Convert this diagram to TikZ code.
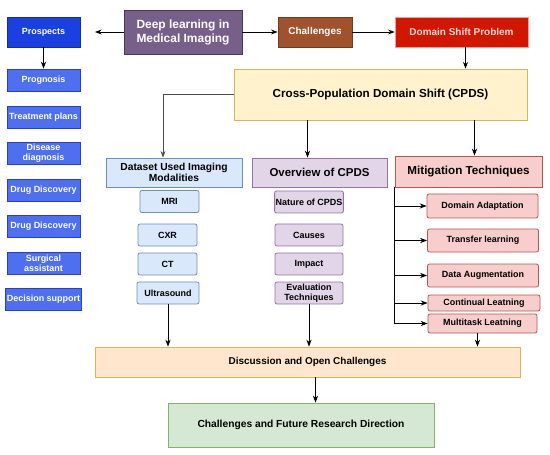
\documentclass[tikz,border=0pt]{standalone}
\usepackage{fontspec}
\setmainfont{Liberation Sans}
\usetikzlibrary{arrows.meta}
\usetikzlibrary{calc}

\begin{document}
\begin{tikzpicture}[x=1bp, y=-1bp, >=Stealth,
    box/.style={draw, line width=0.8pt, align=center, inner sep=1pt,
        font=\bfseries\fontsize{9}{10}\selectfont},
    prosBox/.style={box, fill=prosBlue, draw=prosLine, text=white,
        minimum width=73bp, minimum height=22bp},
    modBox/.style={box, rounded corners=2pt, fill=modFill, draw=modLine,
        minimum height=22bp},
    ovBox/.style={box, rounded corners=2pt, fill=ovFill, draw=ovLine,
        minimum width=68bp, minimum height=22bp},
    mitBox/.style={box, rounded corners=2pt, fill=mitFill, draw=mitLine},
    link/.style={->, line width=0.9pt}]

% ---------------------------------------------------------------------------
% Color aliases
% ---------------------------------------------------------------------------
\definecolor{dlFill}{HTML}{76608A}
\definecolor{prosTop}{HTML}{1A40E0}
\definecolor{prosBlue}{HTML}{4D6FF0}
\definecolor{prosLine}{HTML}{2A3FC8}
\definecolor{chalFill}{HTML}{A0522D}
\definecolor{dspFill}{HTML}{D01800}
\definecolor{cpdsFill}{HTML}{FFF2CC}
\definecolor{cpdsLine}{HTML}{D6B656}
\definecolor{modFill}{HTML}{DAE8FC}
\definecolor{modLine}{HTML}{6C8EBF}
\definecolor{ovFill}{HTML}{E1D5E7}
\definecolor{ovLine}{HTML}{9673A6}
\definecolor{mitFill}{HTML}{F8CECC}
\definecolor{mitLine}{HTML}{B85450}
\definecolor{discFill}{HTML}{FFE6CC}
\definecolor{futFill}{HTML}{D5E8D4}
\definecolor{futLine}{HTML}{82B366}

\useasboundingbox (0,0) rectangle (550,455);

% ---------------------------------------------------------------------------
% Top row
% ---------------------------------------------------------------------------
\node[box, fill=dlFill, draw=dlFill!60!black, text=white,
      minimum width=118bp, minimum height=44bp,
      font=\bfseries\fontsize{12}{14}\selectfont]
      (dl) at (183,32) {Deep learning in\\Medical Imaging};
\node[box, fill=prosTop, draw=prosTop!70!black, text=white,
      minimum width=73bp, minimum height=30bp] (prospects) at (43.5,32) {Prospects};
\node[box, fill=chalFill, draw=chalFill!70!black, text=white,
      minimum width=74bp, minimum height=30bp,
      font=\bfseries\fontsize{10}{12}\selectfont] (challenges) at (315,32) {Challenges};
\node[box, fill=dspFill, draw=red!40, text=red!15,
      minimum width=133bp, minimum height=30bp,
      font=\bfseries\fontsize{10}{12}\selectfont] (dsp) at (461.5,32) {Domain Shift Problem};

\coordinate (prosTip) at (95,32);
\draw[->, thick] (dl.west) -- (prosTip);
\draw[->, thick] (dl.east) -- (challenges.west);
\draw[->, thick] (challenges.east) -- (dsp.west);

% ---------------------------------------------------------------------------
% Prospects column
% ---------------------------------------------------------------------------
\node[prosBox] (prognosis) at (43.5,80) {Prognosis};
\node[prosBox] (treatment) at (43.5,117) {Treatment plans};
\node[prosBox] (diagnosis) at (43.5,153) {Disease\\diagnosis};
\node[prosBox] (drugA) at (43.5,190) {Drug Discovery};
\node[prosBox] (drugB) at (43.5,226) {Drug Discovery};
\node[prosBox] (surgical) at (43.5,263) {Surgical\\assistant};
\node[prosBox] (decision) at (43.5,299.5) {Decision support};

\draw[link] (prospects.south) -- (prognosis.north);

% ---------------------------------------------------------------------------
% CPDS
% ---------------------------------------------------------------------------
\node[box, fill=cpdsFill, draw=cpdsLine, minimum width=293bp, minimum height=51bp,
      font=\bfseries\fontsize{11.7}{13}\selectfont]
      (cpds) at (380.5,94.5) {Cross-Population Domain Shift (CPDS)};
\draw[->, thick] ([xshift=4bp]dsp.south) -- ([xshift=4bp]dsp.south |- cpds.north);

% ---------------------------------------------------------------------------
% Three branches
% ---------------------------------------------------------------------------
\node[box, fill=modFill, draw=modLine, minimum width=136bp, minimum height=29bp,
      font=\bfseries\fontsize{10.3}{11.5}\selectfont]
      (dataset) at (174,172.5) {Dataset Used Imaging\\Modalities};
\node[box, fill=ovFill, draw=ovLine, minimum width=135bp, minimum height=29bp,
      font=\bfseries\fontsize{11.5}{13}\selectfont]
      (overview) at (319.5,172.5) {Overview of CPDS};
\node[box, fill=mitFill, draw=mitLine, minimum width=147bp, minimum height=31bp,
      font=\bfseries\fontsize{11.7}{13}\selectfont]
      (mitig) at (468.5,171.5) {Mitigation Techniques};

\draw[->, black!70, thick] (cpds.west) -| ([xshift=-11bp]dataset.north);
\draw[link] ([xshift=-12bp]overview.north |- cpds.south) -- ([xshift=-12bp]overview.north);
\draw[link] ([xshift=6bp]mitig.north |- cpds.south) -- ([xshift=6bp]mitig.north);

% Imaging modalities
\node[modBox, minimum width=59bp] (mri) at (169.5,201.5) {MRI};
\node[modBox, minimum width=59bp] (cxr) at (167.5,235) {CXR};
\node[modBox, minimum width=59bp] (ct) at (167.5,264) {CT};
\node[modBox, minimum width=62bp] (us) at (168,293) {Ultrasound};

% Overview items
\node[ovBox] (nature) at (309,202) {Nature of CPDS};
\node[ovBox] (causes) at (309,235) {Causes};
\node[ovBox] (impact) at (309,264) {Impact};
\node[ovBox] (evaluation) at (309,293) {Evaluation\\Techniques};

% Mitigation items
\node[mitBox, minimum width=111bp, minimum height=24bp] (da) at (482.5,206) {Domain Adaptation};
\node[mitBox, minimum width=111bp, minimum height=23bp] (tl) at (483,240.5) {Transfer learning};
\node[mitBox, minimum width=111bp, minimum height=23bp] (dau) at (483,275.5) {Data Augmentation};
\node[mitBox, minimum width=112bp, minimum height=16bp] (cl) at (484,303) {Continual Leatning};
\node[mitBox, minimum width=109bp, minimum height=19bp] (ml) at (482.5,323.5) {Multitask Leatning};

\draw[line width=0.9pt] (mitig.south west) -- (mitig.south west |- ml.west);
\foreach \item in {da, tl, dau, cl, ml} {
    \draw[link] (mitig.south west |- \item.west) -- (\item.west);
}

% ---------------------------------------------------------------------------
% Bottom
% ---------------------------------------------------------------------------
\node[box, fill=discFill, draw=cpdsLine, minimum width=425bp, minimum height=30bp,
      font=\bfseries\fontsize{10}{12}\selectfont]
      (disc) at (307.5,362) {Discussion and Open Challenges};
\node[box, fill=futFill, draw=futLine, minimum width=266bp, minimum height=44bp,
      font=\bfseries\fontsize{10.3}{12}\selectfont]
      (future) at (301,425) {Challenges and Future Research Direction};

\draw[link] (us.south) -- (us.south |- disc.north);
\draw[link] (evaluation.south) -- (evaluation.south |- disc.north);
\draw[link] ([xshift=-5bp]ml.south) -- ([xshift=-5bp]ml.south |- disc.north);
\draw[link] ([xshift=8bp]disc.south) -- ([xshift=8bp]disc.south |- future.north);

\end{tikzpicture}
\end{document}
